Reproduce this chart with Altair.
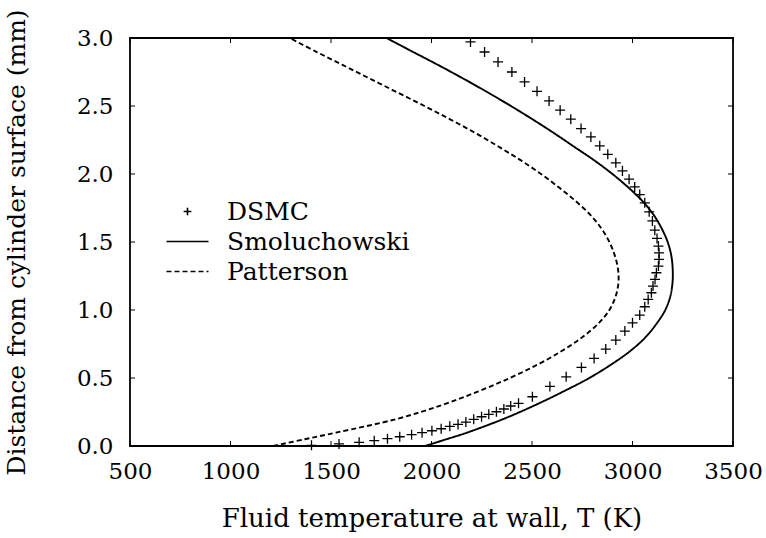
import altair as alt
import pandas as pd

# ---------------- data ----------------
dsmc_T = [1403, 1540, 1640, 1715, 1781, 1842, 1901, 1953, 2002, 2048,
          2091, 2132, 2171, 2210, 2249, 2285, 2323, 2360, 2394, 2433,
          2502, 2589, 2670, 2746, 2809, 2867, 2917, 2962, 3000, 3036,
          3061, 3078, 3094, 3102, 3112, 3119, 3129, 3132, 3132, 3129,
          3122, 3111, 3099, 3083, 3061, 3036, 3011, 2983, 2950, 2917,
          2877, 2837, 2793, 2744, 2693, 2640, 2585, 2525, 2463, 2400,
          2331, 2264, 2194]
dsmc_y = [0.005, 0.015, 0.027, 0.039, 0.054, 0.068, 0.083, 0.098, 0.112, 0.127,
          0.145, 0.159, 0.176, 0.196, 0.215, 0.233, 0.252, 0.272, 0.294, 0.314,
          0.362, 0.438, 0.509, 0.578, 0.644, 0.713, 0.779, 0.845, 0.906, 0.963,
          1.024, 1.078, 1.127, 1.176, 1.225, 1.274, 1.323, 1.372, 1.420, 1.470,
          1.526, 1.587, 1.655, 1.722, 1.788, 1.849, 1.905, 1.962, 2.023, 2.082,
          2.145, 2.207, 2.273, 2.334, 2.403, 2.469, 2.537, 2.608, 2.677, 2.750,
          2.824, 2.897, 2.971]

smol_y = [0.00, 0.05, 0.10, 0.20, 0.30, 0.40, 0.50, 0.60, 0.70, 0.80, 0.90, 1.00,
          1.10, 1.20, 1.30, 1.40, 1.50, 1.60, 1.70, 1.80, 1.90, 2.00, 2.10, 2.20,
          2.30, 2.40, 2.50, 2.60, 2.70, 2.80, 2.90, 3.00]
smol_T = [1967, 2075, 2180, 2360, 2515, 2655, 2785, 2895, 2990, 3065, 3120, 3163,
          3188, 3199, 3200, 3193, 3175, 3145, 3105, 3050, 2980, 2900, 2810, 2710,
          2610, 2505, 2395, 2280, 2160, 2035, 1905, 1776]

pat_y = [0.00, 0.05, 0.10, 0.20, 0.30, 0.40, 0.50, 0.60, 0.70, 0.80, 0.90, 1.00,
         1.10, 1.20, 1.30, 1.40, 1.50, 1.60, 1.70, 1.80, 1.90, 2.00, 2.10, 2.20,
         2.30, 2.40, 2.50, 2.60, 2.70, 2.80, 2.90, 3.00]
pat_T = [1212, 1370, 1530, 1830, 2050, 2230, 2390, 2530, 2650, 2750, 2830, 2885,
         2916, 2930, 2928, 2912, 2885, 2845, 2790, 2718, 2635, 2545, 2445, 2335,
         2220, 2095, 1965, 1830, 1695, 1560, 1425, 1295]

series_names = ["DSMC", "Smoluchowski", "Patterson"]
x_ticks = [500, 1000, 1500, 2000, 2500, 3000, 3500]
y_ticks = [0.0, 0.5, 1.0, 1.5, 2.0, 2.5, 3.0]

x_title = "Fluid temperature at wall, T (K)"
y_title = "Distance from cylinder surface (mm)"

# ---------------- tables ----------------
pts = pd.DataFrame({"T": dsmc_T, "y": dsmc_y, "series": "DSMC"})
lines = pd.concat([
    pd.DataFrame({"T": smol_T, "y": smol_y, "series": "Smoluchowski", "i": range(len(smol_T))}),
    pd.DataFrame({"T": pat_T, "y": pat_y, "series": "Patterson", "i": range(len(pat_T))}),
], ignore_index=True)
xt = pd.DataFrame({"T": x_ticks})
yt = pd.DataFrame({"y": y_ticks})

W, H = 603, 408
FONT = "DejaVu Serif"

xscale = alt.Scale(domain=[500, 3500], nice=False, zero=False)
yscale = alt.Scale(domain=[0, 3], nice=False, zero=False)

X = alt.X("T:Q", scale=xscale,
          axis=alt.Axis(values=x_ticks, format="d", title=x_title,
                        labelPadding=14, titlePadding=22, labelFlush=False,
                        labelOverlap=False, titleFontSize=26))
Y = alt.Y("y:Q", scale=yscale,
          axis=alt.Axis(values=y_ticks, format=".1f", title=y_title,
                        labelPadding=17, titlePadding=47, labelFlush=False,
                        labelOverlap=False, titleFontSize=25))

legend = alt.Legend(orient="none", legendX=45, legendY=161, title=None)

plus = "M-1.1,0L1.1,0M0,-1.1L0,1.1"
seg = "M-6,0L6,0"

shape_scale = alt.Scale(domain=series_names, range=[plus, seg, seg])
dash_scale = alt.Scale(domain=series_names, range=[[1, 0], [1, 0], [5, 3]])

points = alt.Chart(pts).mark_point(filled=False, color="black", strokeWidth=1.3, size=83, opacity=1).encode(
    x=X, y=Y,
    shape=alt.Shape("series:N", scale=shape_scale, legend=legend),
)

curves = alt.Chart(lines).mark_line(color="black", strokeWidth=1.9, interpolate="catmull-rom").encode(
    x=X, y=Y,
    detail="series:N",
    order="i:Q",
    strokeDash=alt.StrokeDash("series:N", scale=dash_scale, legend=legend),
)

# inside ticks on all four sides
xt_bottom = alt.Chart(xt).mark_rule(color="black", strokeWidth=1).encode(
    x=alt.X("T:Q", scale=xscale), y=alt.value(H), y2=alt.value(H - 5))
xt_top = alt.Chart(xt).mark_rule(color="black", strokeWidth=1).encode(
    x=alt.X("T:Q", scale=xscale), y=alt.value(0), y2=alt.value(5))
yt_left = alt.Chart(yt).mark_rule(color="black", strokeWidth=1).encode(
    y=alt.Y("y:Q", scale=yscale), x=alt.value(0), x2=alt.value(5))
yt_right = alt.Chart(yt).mark_rule(color="black", strokeWidth=1).encode(
    y=alt.Y("y:Q", scale=yscale), x=alt.value(W), x2=alt.value(W - 5))

chart = alt.layer(curves, points, xt_bottom, xt_top, yt_left, yt_right).properties(
    width=W, height=H,
    autosize=alt.AutoSizeParams(type="none"),
    padding={"left": 130, "top": 38, "right": 33, "bottom": 92},
    background="white",
).configure_view(
    stroke="black", strokeWidth=1.8
).configure_axis(
    grid=False, domain=False, ticks=False,
    labelFont=FONT, labelFontSize=23, labelColor="black",
    titleFont=FONT, titleFontWeight="normal", titleColor="black",
).configure_legend(
    labelFont=FONT, labelFontSize=25, labelColor="black", labelLimit=400,
    symbolSize=49, symbolStrokeWidth=1.6, symbolStrokeColor="black",
    symbolFillColor="transparent",
    labelOffset=27, rowPadding=4, padding=0,
)

chart.save("out.html", embed_options={"renderer": "svg", "actions": False})
